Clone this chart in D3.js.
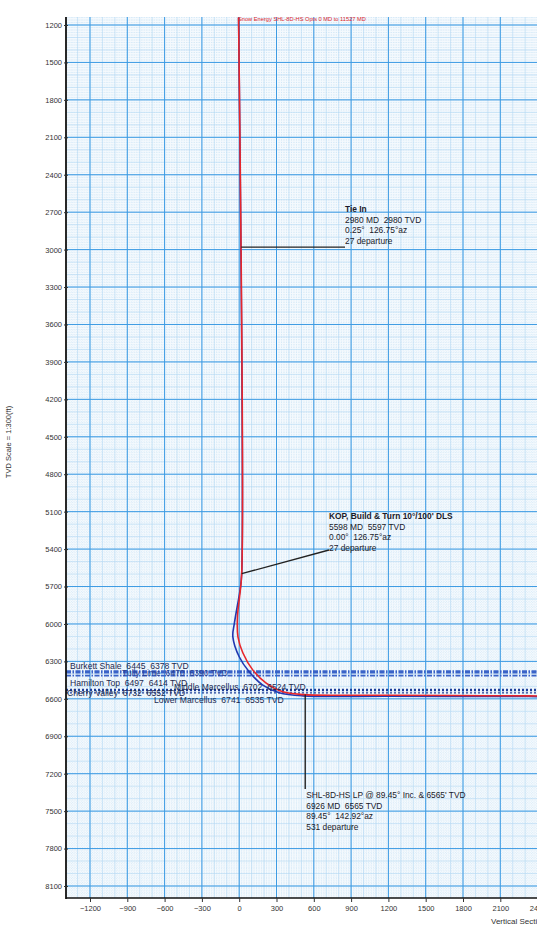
<!DOCTYPE html>
<html>
<head>
<meta charset="utf-8">
<script src="https://cdn.jsdelivr.net/npm/d3@7"></script>
<style>
  html, body { margin: 0; padding: 0; background: #ffffff; }
  svg { display: block; font-family: "Liberation Sans", Arial, sans-serif; }
  text { white-space: pre; }
</style>
</head>
<body>
<svg id="chart" width="537" height="930"></svg>
<script>
// ---------- data ----------
const yTickValues = [1200,1500,1800,2100,2400,2700,3000,3300,3600,3900,4200,4500,4800,5100,5400,5700,6000,6300,6600,6900,7200,7500,7800,8100];
const xTickValues = [-1200,-900,-600,-300,0,300,600,900,1200,1500,1800,2100,2400];

// plan well path (red): vertical section (ft), TVD (ft)
const planVS  = [-5, 20, 3, -14, -10, 30, 110, 217, 351, 523, 1200, 2000, 2800];
const planTVD = [1140, 5597, 5782, 5942, 6103, 6233, 6370, 6474, 6544, 6566, 6571, 6575, 6579];

// actual well path (blue)
const actualVS  = [-5, 20, 8, -38, -51, 0, 80, 190, 322, 512, 1200, 2000, 2800];
const actualTVD = [1140, 5597, 5720, 5990, 6103, 6263, 6383, 6490, 6551, 6576, 6579, 6581, 6583];

// formation tops
const formationNames = ["Burkett Shale", "Tully Lime", "Hamilton Top", "Middle Marcellus", "Lower Marcellus", "Cherry Valley"];
const formationMD    = [6445, 6470, 6497, 6702, 6741, 6732];
const formationTVD   = [6378, 6390, 6414, 6524, 6535, 6552];

// annotations
const tieInLines = ["Tie In", "2980 MD  2980 TVD", "0.25°  126.75°az", "27 departure"];
const tieInPoint = [16, 2980];
const kopLines = ["KOP, Build & Turn 10°/100' DLS", "5598 MD  5597 TVD", "0.00°  126.75°az", "27 departure"];
const kopPoint = [20, 5597];
const lpLines = ["SHL-8D-HS LP @ 89.45° Inc. & 6565' TVD", "6926 MD  6565 TVD", "89.45°  142.92°az", "531 departure"];
const lpPoint = [531, 6565];

const titleText = "Snow Energy SHL-8D-HS Opts 0 MD to 11527 MD";
const yAxisTitle = "TVD Scale = 1:300(ft)";
const xAxisTitle = "Vertical Section at 142.92° (ft)";

// ---------- layout ----------
const svg = d3.select("#chart");
const pLeft = 66, pTop = 17, pBottom = 898, pRight = 600;

const x = d3.scaleLinear().domain([-1200, 2400]).range([90, 537.6]);
const y = d3.scaleLinear().domain([1200, 8100]).range([25, 886]);

svg.append("defs").append("clipPath").attr("id", "clip")
  .append("rect").attr("x", pLeft).attr("y", pTop).attr("width", pRight - pLeft).attr("height", pBottom - pTop);

const plot = svg.append("g").attr("clip-path", "url(#clip)");
plot.append("rect").attr("x", pLeft).attr("y", pTop).attr("width", pRight - pLeft).attr("height", pBottom - pTop)
  .attr("fill", "#f4f9fd");

const xmin = x.invert(pLeft), xmax = x.invert(pRight);
const ymin = y.invert(pTop), ymax = y.invert(pBottom);

// fine dotted grid every 20 ft
const fineX = d3.range(Math.ceil(xmin / 20) * 20, xmax, 20);
const fineY = d3.range(Math.ceil(ymin / 20) * 20, ymax, 20);
plot.append("g").selectAll("line").data(fineX).join("line")
  .attr("x1", d => x(d)).attr("x2", d => x(d)).attr("y1", pTop).attr("y2", pBottom)
  .attr("stroke", "#c4e1f5").attr("stroke-width", 0.5).attr("stroke-dasharray", "1,1.5");
plot.append("g").selectAll("line").data(fineY).join("line")
  .attr("y1", d => y(d)).attr("y2", d => y(d)).attr("x1", pLeft).attr("x2", pRight)
  .attr("stroke", "#c4e1f5").attr("stroke-width", 0.5).attr("stroke-dasharray", "1,1.5");

// minor grid every 100 ft
const minX = d3.range(Math.ceil(xmin / 100) * 100, xmax, 100);
const minY = d3.range(Math.ceil(ymin / 100) * 100, ymax, 100);
plot.append("g").selectAll("line").data(minX).join("line")
  .attr("x1", d => x(d)).attr("x2", d => x(d)).attr("y1", pTop).attr("y2", pBottom)
  .attr("stroke", "#b3d9f4").attr("stroke-width", 0.6);
plot.append("g").selectAll("line").data(minY).join("line")
  .attr("y1", d => y(d)).attr("y2", d => y(d)).attr("x1", pLeft).attr("x2", pRight)
  .attr("stroke", "#b3d9f4").attr("stroke-width", 0.6);

// major grid every 300 ft
const majX = d3.range(Math.ceil(xmin / 300) * 300, xmax, 300);
const majY = d3.range(Math.ceil(ymin / 300) * 300, ymax, 300);
plot.append("g").selectAll("line").data(majX).join("line")
  .attr("x1", d => x(d)).attr("x2", d => x(d)).attr("y1", pTop).attr("y2", pBottom)
  .attr("stroke", "#3d9be3").attr("stroke-width", 1);
plot.append("g").selectAll("line").data(majY).join("line")
  .attr("y1", d => y(d)).attr("y2", d => y(d)).attr("x1", pLeft).attr("x2", pRight)
  .attr("stroke", "#3d9be3").attr("stroke-width", 1);

// formation lines
const formations = formationNames.map((n, i) => ({ name: n, md: formationMD[i], tvd: formationTVD[i], i }));
plot.append("g").selectAll("line").data(formations).join("line")
  .attr("x1", pLeft).attr("x2", pRight)
  .attr("y1", d => y(d.tvd)).attr("y2", d => y(d.tvd))
  .attr("stroke", d => d.i < 3 ? "#3a63c8" : "#1e3f9a")
  .attr("stroke-width", d => d.i < 3 ? 1.8 : 1.2)
  .attr("stroke-dasharray", d => d.i < 3 ? "5,1.5,1.5,1.5" : "2,2");

// formation labels
const formationLabelX = [70, 122, 70, 174, 154, 67];
const formationLabelDy = [-2, 3.5, 10.5, 0.7, 12.3, 3.2];
svg.append("g").selectAll("text").data(formations).join("text")
  .attr("x", d => formationLabelX[d.i])
  .attr("y", d => y(d.tvd) + formationLabelDy[d.i])
  .attr("font-size", 8.6)
  .attr("fill", d => d.i === 1 ? "#2a3f90" : "#1c2a50")
  .text(d => `${d.name}  ${d.md}  ${d.tvd} TVD`);

// well paths
const line = d3.line().x(d => x(d[0])).y(d => y(d[1])).curve(d3.curveCatmullRom.alpha(0.5));
const actual = actualVS.map((v, i) => [v, actualTVD[i]]);
const plan = planVS.map((v, i) => [v, planTVD[i]]);
plot.append("path").attr("d", line(actual)).attr("fill", "none").attr("stroke", "#2238b0").attr("stroke-width", 1.6);
plot.append("path").attr("d", line(plan)).attr("fill", "none").attr("stroke", "#e8262a").attr("stroke-width", 1.6);

// annotations
function annotate(lines, tx, ty, boldFirst) {
  const t = svg.append("text").attr("font-size", 8.4).attr("fill", "#1a1a2a");
  lines.forEach((s, i) => {
    t.append("tspan").attr("x", tx).attr("y", ty + i * 10.6)
      .attr("font-weight", (i === 0 && boldFirst) ? "bold" : "normal").text(s);
  });
}
svg.append("line").attr("x1", x(tieInPoint[0])).attr("y1", y(tieInPoint[1]))
  .attr("x2", 345).attr("y2", y(tieInPoint[1])).attr("stroke", "#222").attr("stroke-width", 1.3);
annotate(tieInLines, 345, 212, true);
svg.append("line").attr("x1", x(kopPoint[0])).attr("y1", y(kopPoint[1]))
  .attr("x2", 329).attr("y2", 550).attr("stroke", "#222").attr("stroke-width", 1.3);
annotate(kopLines, 329, 519, true);
svg.append("line").attr("x1", x(lpPoint[0])).attr("y1", y(lpPoint[1]))
  .attr("x2", x(lpPoint[0])).attr("y2", 789).attr("stroke", "#222").attr("stroke-width", 1.4);
annotate(lpLines, x(lpPoint[0]) + 1, 798, false);

// title
svg.append("text").attr("x", 238).attr("y", 21).attr("font-size", 5.7).attr("fill", "#e0262a").text(titleText);

// frame
svg.append("line").attr("x1", pLeft).attr("x2", pLeft).attr("y1", pTop).attr("y2", pBottom + 1)
  .attr("stroke", "#111").attr("stroke-width", 1.8);
svg.append("line").attr("x1", pLeft).attr("x2", pRight).attr("y1", pBottom).attr("y2", pBottom)
  .attr("stroke", "#111").attr("stroke-width", 1.4);

// y axis
const yAxis = d3.axisLeft(y).tickValues(yTickValues).tickSize(4).tickPadding(2).tickFormat(d3.format("d"));
const ya = svg.append("g").attr("transform", `translate(${pLeft + 2},0)`).call(yAxis);
ya.select(".domain").remove();
ya.selectAll("text").attr("font-size", 7.5).attr("fill", "#333").attr("font-family", "Liberation Sans, Arial, sans-serif");
ya.selectAll("line").attr("stroke", "#333");

// x axis
const xAxis = d3.axisBottom(x).tickValues(xTickValues).tickSize(4).tickPadding(4).tickFormat(d3.format("d"));
const xa = svg.append("g").attr("transform", `translate(0,${pBottom})`).call(xAxis);
xa.select(".domain").remove();
xa.selectAll("text").attr("font-size", 7.5).attr("fill", "#333").attr("font-family", "Liberation Sans, Arial, sans-serif");
xa.selectAll("line").attr("stroke", "#333");

// axis titles
svg.append("text").attr("transform", "translate(11,442) rotate(-90)").attr("text-anchor", "middle")
  .attr("font-size", 7.5).attr("fill", "#333").text(yAxisTitle);
svg.append("text").attr("x", 491).attr("y", 924).attr("font-size", 8).attr("fill", "#333").text(xAxisTitle);
</script>
</body>
</html>
